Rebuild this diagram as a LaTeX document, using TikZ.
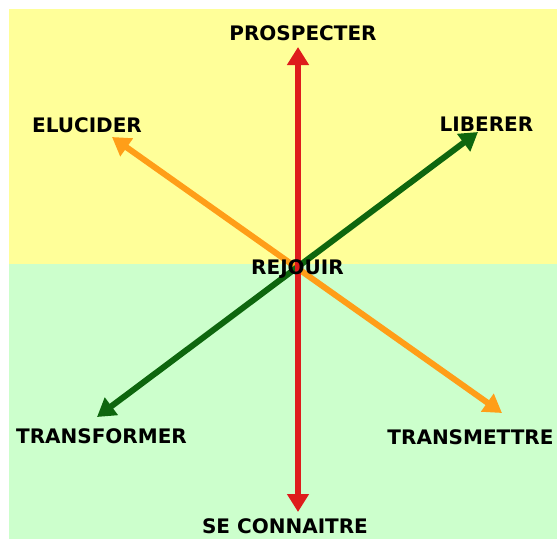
\documentclass[tikz,border=0pt]{standalone}
\usepackage{fontspec}
\newfontfamily\labfont{DejaVu Sans}
\usetikzlibrary{arrows.meta}
\definecolor{SkyYellow}{RGB}{255,255,153}
\definecolor{MintGreen}{RGB}{204,255,204}
\definecolor{AxisRed}{RGB}{222,28,28}
\definecolor{AxisOrange}{RGB}{255,158,24}
\definecolor{AxisGreen}{RGB}{14,102,14}
\tikzset{
  lab/.style={font=\labfont\bfseries\fontsize{20}{20}\selectfont, inner sep=1pt},
  axis/.style={{Triangle[length=18pt,width=21pt]}-{Triangle[length=18pt,width=21pt]}, line width=6pt},
}

\begin{document}
\begin{tikzpicture}[x=1pt, y=-1pt]
  \useasboundingbox (0,0) rectangle (557,539);
  % two halves of the field
  \fill[SkyYellow] (9,9) rectangle (557,264);
  \fill[MintGreen] (9,264) rectangle (557,539);
  % arrow ends
  \coordinate (eluTip) at (112,137);
  \coordinate (traTip) at (502,413);
  \coordinate (libTip) at (478,132);
  \coordinate (forTip) at (97,417);
  \coordinate (proTip) at (298,47);
  \coordinate (conTip) at (298,512);
  \draw[axis, AxisOrange] (eluTip) -- (traTip);
  \draw[axis, AxisGreen] (libTip) -- (forTip);
  \draw[axis, AxisRed] (proTip) -- (conTip);
  % labels
  \foreach \name/\x/\y/\t in {pro/303/33/PROSPECTER, elu/87/125/ELUCIDER,
      lib/486.5/124.5/LIBERER, rej/297.5/269.5/REJOUIR, for/101.5/436/TRANSFORMER,
      tra/470.5/437.5/TRANSMETTRE, con/285/526.5/SE CONNAITRE}
    \node[lab] (\name) at (\x,\y) {\t};
\end{tikzpicture}
\end{document}
